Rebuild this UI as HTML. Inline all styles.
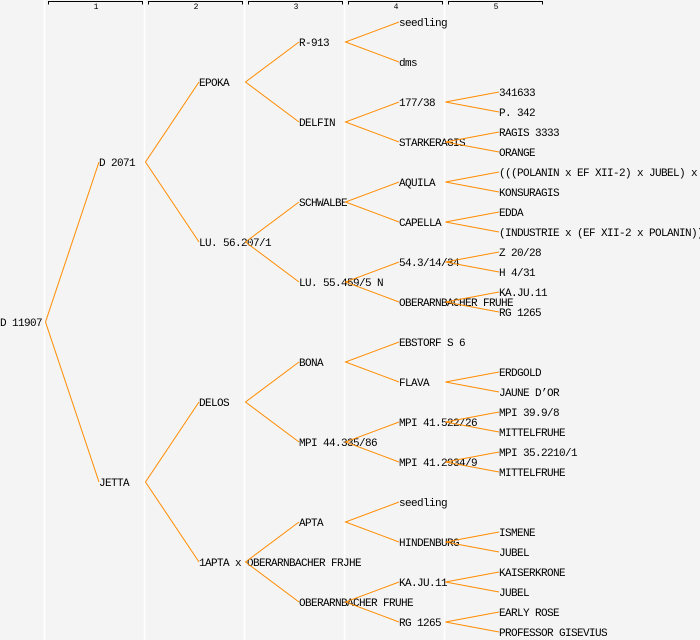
<!DOCTYPE html>
<html><head><meta charset="utf-8"><style>
html,body{margin:0;padding:0;background:#f4f4f4;}
svg{display:block}
text{font-family:"Liberation Mono","DejaVu Sans Mono",monospace;font-size:11px;letter-spacing:-0.6px;fill:#000}
.h{font-size:8px;letter-spacing:0;text-anchor:middle}
</style></head><body>
<svg width="700" height="640" viewBox="0 0 700 640" xmlns="http://www.w3.org/2000/svg">
<rect width="700" height="640" fill="#f4f4f4"/>
<g stroke="#ffffff" stroke-width="1.5">
<line x1="44.5" y1="0" x2="44.5" y2="640"/>
<line x1="144.5" y1="0" x2="144.5" y2="640"/>
<line x1="244.5" y1="0" x2="244.5" y2="640"/>
<line x1="344.5" y1="0" x2="344.5" y2="640"/>
<line x1="444.5" y1="0" x2="444.5" y2="640"/>
</g>
<g stroke="#000" stroke-width="1" fill="none">
<path d="M48.5 4.5V1.5H142.5V4.5"/>
<path d="M148.5 4.5V1.5H242.5V4.5"/>
<path d="M248.5 4.5V1.5H342.5V4.5"/>
<path d="M348.5 4.5V1.5H442.5V4.5"/>
<path d="M448.5 4.5V1.5H542.5V4.5"/>
</g>
<text class="h" x="96" y="9">1</text>
<text class="h" x="196" y="9">2</text>
<text class="h" x="296" y="9">3</text>
<text class="h" x="396" y="9">4</text>
<text class="h" x="496" y="9">5</text>

<g>
<text x="0" y="326">D 11907</text>
<text x="99" y="166">D 2071</text>
<text x="99" y="486">JETTA</text>
<text x="199" y="86">EPOKA</text>
<text x="199" y="246">LU. 56.207/1</text>
<text x="199" y="406">DELOS</text>
<text x="199" y="566">1APTA x OBERARNBACHER FRJHE</text>
<text x="299" y="46">R-913</text>
<text x="299" y="126">DELFIN</text>
<text x="299" y="206">SCHWALBE</text>
<text x="299" y="286">LU. 55.459/5 N</text>
<text x="299" y="366">BONA</text>
<text x="299" y="446">MPI 44.335/86</text>
<text x="299" y="526">APTA</text>
<text x="299" y="606">OBERARNBACHER FRUHE</text>
<text x="399" y="26">seedling</text>
<text x="399" y="66">dms</text>
<text x="399" y="106">177/38</text>
<text x="399" y="146">STARKERAGIS</text>
<text x="399" y="186">AQUILA</text>
<text x="399" y="226">CAPELLA</text>
<text x="399" y="266">54.3/14/34</text>
<text x="399" y="306">OBERARNBACHER FRUHE</text>
<text x="399" y="346">EBSTORF S 6</text>
<text x="399" y="386">FLAVA</text>
<text x="399" y="426">MPI 41.522/26</text>
<text x="399" y="466">MPI 41.2934/9</text>
<text x="399" y="506">seedling</text>
<text x="399" y="546">HINDENBURG</text>
<text x="399" y="586">KA.JU.11</text>
<text x="399" y="626">RG 1265</text>
<text x="499" y="96">341633</text>
<text x="499" y="116">P. 342</text>
<text x="499" y="136">RAGIS 3333</text>
<text x="499" y="156">ORANGE</text>
<text x="499" y="176">(((POLANIN x EF XII-2) x JUBEL) x</text>
<text x="499" y="196">KONSURAGIS</text>
<text x="499" y="216">EDDA</text>
<text x="499" y="236">(INDUSTRIE x (EF XII-2 x POLANIN))</text>
<text x="499" y="256">Z 20/28</text>
<text x="499" y="276">H 4/31</text>
<text x="499" y="296">KA.JU.11</text>
<text x="499" y="316">RG 1265</text>
<text x="499" y="376">ERDGOLD</text>
<text x="499" y="396">JAUNE D’OR</text>
<text x="499" y="416">MPI 39.9/8</text>
<text x="499" y="436">MITTELFRUHE</text>
<text x="499" y="456">MPI 35.2210/1</text>
<text x="499" y="476">MITTELFRUHE</text>
<text x="499" y="536">ISMENE</text>
<text x="499" y="556">JUBEL</text>
<text x="499" y="576">KAISERKRONE</text>
<text x="499" y="596">JUBEL</text>
<text x="499" y="616">EARLY ROSE</text>
<text x="499" y="636">PROFESSOR GISEVIUS</text>
</g>

<g stroke="#ff8c00" stroke-width="1" fill="none">
<path d="M99 162L45.5 322L99 482"/>
<path d="M199 82L145.5 162L199 242"/>
<path d="M199 402L145.5 482L199 562"/>
<path d="M299 42L245.5 82L299 122"/>
<path d="M299 202L245.5 242L299 282"/>
<path d="M299 362L245.5 402L299 442"/>
<path d="M299 522L245.5 562L299 602"/>
<path d="M399 22L345.5 42L399 62"/>
<path d="M399 102L345.5 122L399 142"/>
<path d="M399 182L345.5 202L399 222"/>
<path d="M399 262L345.5 282L399 302"/>
<path d="M399 342L345.5 362L399 382"/>
<path d="M399 422L345.5 442L399 462"/>
<path d="M399 502L345.5 522L399 542"/>
<path d="M399 582L345.5 602L399 622"/>
<path d="M499 92L445.5 102L499 112"/>
<path d="M499 132L445.5 142L499 152"/>
<path d="M499 172L445.5 182L499 192"/>
<path d="M499 212L445.5 222L499 232"/>
<path d="M499 252L445.5 262L499 272"/>
<path d="M499 292L445.5 302L499 312"/>
<path d="M499 372L445.5 382L499 392"/>
<path d="M499 412L445.5 422L499 432"/>
<path d="M499 452L445.5 462L499 472"/>
<path d="M499 532L445.5 542L499 552"/>
<path d="M499 572L445.5 582L499 592"/>
<path d="M499 612L445.5 622L499 632"/>
</g>
</svg>
</body></html>
